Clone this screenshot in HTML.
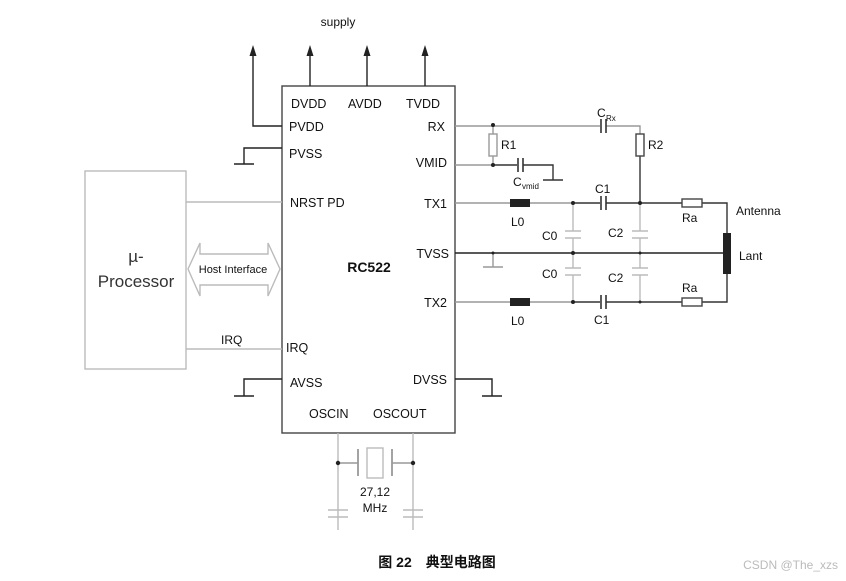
<!DOCTYPE html>
<html><head><meta charset="utf-8"><style>
html,body{margin:0;padding:0;background:#fff;}
svg{display:block;font-family:"Liberation Sans","Noto Sans CJK SC",sans-serif;}
</style></head><body>
<svg width="846" height="581" viewBox="0 0 846 581" xmlns="http://www.w3.org/2000/svg">
<g fill="none" stroke-width="1.4">
<rect x="282" y="86" width="173" height="347" stroke="#444"/>
<rect x="85" y="171" width="101" height="198" stroke="#bbb"/>
<path d="M253 55V126H282 M310 55V86 M367 55V86 M425 55V86" stroke="#222"/>
<path d="M282 148H244V164 M234 164H254" stroke="#222"/>
<path d="M282 379H244V396 M234 396H254" stroke="#222"/>
<path d="M455 379H492V396 M482 396H502" stroke="#222"/>
<path d="M186 202H282 M186 349H282" stroke="#bbb"/>
<path d="M188 269 L200 243 V254 H268 V243 L280 269 L268 296 V285 H200 V296 Z" stroke="#bbb"/>
<path d="M455 126H600 M606 126H640V134" stroke="#999"/>
<path d="M640 156V202" stroke="#333"/>
<path d="M601 119V133 M606 119V133" stroke="#333" stroke-width="1.6"/>
<rect x="636" y="134" width="8" height="22" stroke="#444"/>
<path d="M493 126V134 M493 156V165" stroke="#999"/>
<rect x="489" y="134" width="8" height="22" stroke="#999"/>
<path d="M493 165H517 M523 165H553V180 M543 180H563" stroke="#333"/>
<path d="M455 165H493" stroke="#999"/>
<path d="M518 158V172 M523 158V172" stroke="#333" stroke-width="1.6"/>
<path d="M455 203H573" stroke="#999"/>
<path d="M573 203H600 M606 203H682 M702 203H727V233" stroke="#333"/>
<path d="M601 196V210 M606 196V210 M601 295V309 M606 295V309" stroke="#333" stroke-width="1.6"/>
<path d="M455 302H573" stroke="#999"/>
<path d="M573 302H600 M606 302H682 M702 302H727V273" stroke="#333"/>
<rect x="682" y="199" width="20" height="8" stroke="#444"/>
<rect x="682" y="298" width="20" height="8" stroke="#444"/>
<path d="M455 253H727" stroke="#222"/>
<path d="M493 253V267 M483 267H503" stroke="#999"/>
<path d="M573 203V231 M573 238V268 M573 275V302 M640 203V231 M640 238V268 M640 275V302" stroke="#bbb"/>
<path d="M565 231H581 M565 238H581 M565 268H581 M565 275H581 M632 231H648 M632 238H648 M632 268H648 M632 275H648" stroke="#bbb"/>
<path d="M338 433V530 M413 433V530" stroke="#bbb"/>
<path d="M338 463H358 M392 463H413" stroke="#999"/>
<path d="M358 449V476 M392 449V476" stroke="#999" stroke-width="1.8"/>
<rect x="367" y="448" width="16" height="30" stroke="#bbb"/>
<path d="M328 510H348 M328 517H348 M403 510H423 M403 517H423" stroke="#bbb"/>
</g>
<g fill="#222">
<path d="M253 45l-3.5 11h7z M310 45l-3.5 11h7z M367 45l-3.5 11h7z M425 45l-3.5 11h7z"/>
<rect x="510" y="199" width="20" height="8"/>
<rect x="510" y="298" width="20" height="8"/>
<rect x="723" y="233" width="8" height="41"/>
<circle cx="493" cy="125" r="2"/><circle cx="493" cy="165" r="2"/>
<circle cx="573" cy="203" r="2"/><circle cx="640" cy="203" r="2"/>
<circle cx="573" cy="253" r="2"/><circle cx="640" cy="253" r="1.5"/>
<circle cx="573" cy="302" r="2"/><circle cx="640" cy="302" r="1.5"/>
<circle cx="493" cy="253" r="1.5"/>
<circle cx="338" cy="463" r="2.2"/><circle cx="413" cy="463" r="2.2"/>
</g>
<g fill="#111" font-size="12.5">
<text x="338" y="26" text-anchor="middle" font-size="12">supply</text>
<text x="291" y="108">DVDD</text><text x="348" y="108">AVDD</text><text x="406" y="108">TVDD</text>
<text x="289" y="131">PVDD</text><text x="289" y="158">PVSS</text>
<text x="290" y="207">NRST PD</text><text x="286" y="352">IRQ</text>
<text x="290" y="387">AVSS</text>
<text x="309" y="418">OSCIN</text><text x="373" y="418">OSCOUT</text>
<text x="445" y="131" text-anchor="end">RX</text>
<text x="447" y="167" text-anchor="end">VMID</text>
<text x="447" y="208" text-anchor="end">TX1</text>
<text x="449" y="258" text-anchor="end">TVSS</text>
<text x="447" y="307" text-anchor="end">TX2</text>
<text x="447" y="384" text-anchor="end">DVSS</text>
<text x="369" y="272" text-anchor="middle" font-weight="bold" font-size="14">RC522</text>
<text x="136" y="262" text-anchor="middle" font-size="17" fill="#333">µ-</text>
<text x="136" y="287" text-anchor="middle" font-size="17" fill="#333">Processor</text>
<text x="233" y="273" text-anchor="middle" font-size="11">Host Interface</text>
<text x="221" y="344" font-size="12">IRQ</text>
<text x="501" y="149" font-size="12">R1</text>
<text x="648" y="149" font-size="12">R2</text>
<text x="597" y="117" font-size="12">C</text><text x="606" y="121" font-size="8">Rx</text>
<text x="513" y="186" font-size="12">C</text><text x="522" y="189" font-size="8">vmid</text>
<text x="595" y="193" font-size="12">C1</text>
<text x="594" y="324" font-size="12">C1</text>
<text x="511" y="226" font-size="12">L0</text>
<text x="511" y="325" font-size="12">L0</text>
<text x="542" y="240" font-size="12">C0</text>
<text x="542" y="278" font-size="12">C0</text>
<text x="608" y="237" font-size="12">C2</text>
<text x="608" y="282" font-size="12">C2</text>
<text x="682" y="222" font-size="12">Ra</text>
<text x="682" y="292" font-size="12">Ra</text>
<text x="736" y="215" font-size="12">Antenna</text>
<text x="739" y="260" font-size="12">Lant</text>
<text x="375" y="496" text-anchor="middle" font-size="12">27,12</text>
<text x="375" y="512" text-anchor="middle" font-size="12">MHz</text>
<text x="437" y="567" text-anchor="middle" font-size="14" font-weight="bold">图 22　典型电路图</text>
<text x="838" y="569" text-anchor="end" font-size="12" fill="#bbb">CSDN @The_xzs</text>
</g>
</svg>
</body></html>
